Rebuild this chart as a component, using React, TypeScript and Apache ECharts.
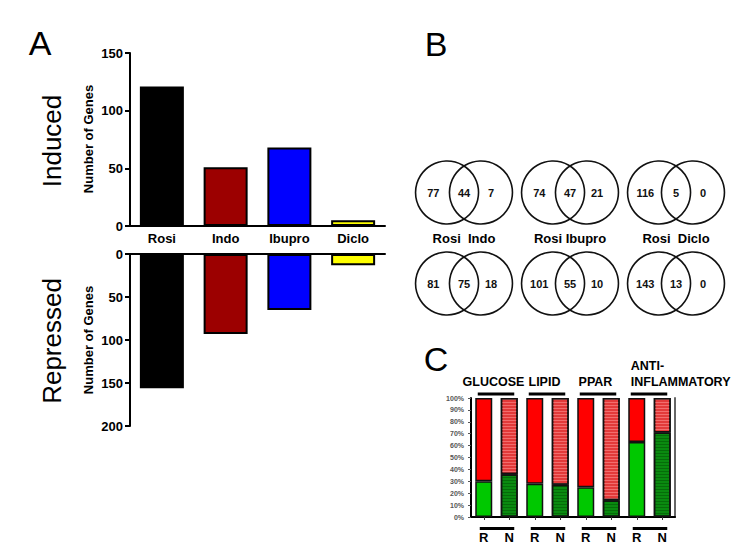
import React, { useEffect, useRef } from "react";
import * as echarts from "echarts";

// ---------- Data ----------
const drugCategories = ["Rosi", "Indo", "Ibupro", "Diclo"];
const drugColors = ["#000000", "#9c0000", "#0000ff", "#ffff00"];
const inducedGenes = [121, 51, 68, 5];
const repressedGenes = [156, 93, 65, 13];

const vennPairLabels = ["Rosi  Indo", "Rosi Ibupro", "Rosi  Diclo"];
const vennInducedRosiOnly = [77, 74, 116];
const vennInducedShared = [44, 47, 5];
const vennInducedDrugOnly = [7, 21, 0];
const vennRepressedRosiOnly = [81, 101, 143];
const vennRepressedShared = [75, 55, 13];
const vennRepressedDrugOnly = [18, 10, 0];

const pathwayBars = ["R", "N", "R", "N", "R", "N", "R", "N"];
const pathwayGroups = ["GLUCOSE", "LIPID", "PPAR", "ANTI-\nINFLAMMATORY"];
const greenPercent = [30, 36, 28, 27, 25, 14, 63, 71];
const redPercent = [70, 64, 72, 73, 75, 86, 37, 29];

const FONT = '"Liberation Sans", Arial, sans-serif';

function buildOption() {
  const circleData: any[] = [];
  const countData: any[] = [];
  const rows = [
    [vennInducedRosiOnly, vennInducedShared, vennInducedDrugOnly],
    [vennRepressedRosiOnly, vennRepressedShared, vennRepressedDrugOnly],
  ];
  rows.forEach((row, r) => {
    for (let i = 0; i < vennPairLabels.length; i++) {
      const cx = i + 0.5;
      const cy = r + 0.5;
      circleData.push([cx - 0.16, cy]);
      circleData.push([cx + 0.16, cy]);
      countData.push([cx - 0.29, cy, row[0][i]]);
      countData.push([cx, cy, row[1][i]]);
      countData.push([cx + 0.255, cy, row[2][i]]);
    }
  });
  const pairLabelData = vennPairLabels.map((l, i) => [i + 0.5, 1, l]);

  const groupData = pathwayGroups.map((g, i) => [i * 2, i * 2 + 1, g]);

  const stripeRed = {
    symbol: "rect",
    symbolSize: 1,
    dashArrayX: [1, 0],
    dashArrayY: [1, 2],
    color: "rgba(255,150,150,0.55)",
  };
  const stripeGreen = {
    symbol: "rect",
    symbolSize: 1,
    dashArrayX: [1, 0],
    dashArrayY: [1, 2],
    color: "rgba(0,70,0,0.45)",
  };

  const axisBlack = { show: true, lineStyle: { color: "#000", width: 2 } };

  return {
    animation: false,
    backgroundColor: "#ffffff",
    textStyle: { fontFamily: FONT },
    grid: [
      { left: 130, top: 53, width: 255, height: 173 },
      { left: 130, top: 254, width: 255, height: 172 },
      { left: 411, top: 147, width: 318, height: 182 },
      { left: 471, top: 398, width: 204, height: 119 },
    ],
    xAxis: [
      {
        gridIndex: 0,
        type: "category",
        data: drugCategories,
        axisLine: { ...axisBlack, onZero: false },
        axisTick: { show: false },
        axisLabel: { color: "#000", fontWeight: "bold", fontSize: 13, margin: 6, fontFamily: FONT },
      },
      {
        gridIndex: 1,
        type: "category",
        data: drugCategories,
        position: "top",
        axisLine: { ...axisBlack, onZero: false },
        axisTick: { show: false },
        axisLabel: { show: false },
      },
      {
        gridIndex: 2,
        type: "value",
        min: 0,
        max: 3,
        show: false,
      },
      {
        gridIndex: 3,
        type: "category",
        data: pathwayBars,
        axisLine: { ...axisBlack, onZero: false },
        axisTick: { show: true, alignWithLabel: true, length: 3, lineStyle: { color: "#333", width: 1 } },
        axisLabel: { color: "#000", fontWeight: "bold", fontSize: 13, margin: 14, fontFamily: FONT },
      },
    ],
    yAxis: [
      {
        gridIndex: 0,
        type: "value",
        min: 0,
        max: 150,
        interval: 50,
        splitLine: { show: false },
        axisLine: axisBlack,
        axisTick: { show: true, length: 5, lineStyle: { color: "#000", width: 2 } },
        axisLabel: { color: "#000", fontWeight: "bold", fontSize: 13, margin: 7, fontFamily: FONT },
      },
      {
        gridIndex: 1,
        type: "value",
        min: 0,
        max: 200,
        interval: 50,
        inverse: true,
        splitLine: { show: false },
        axisLine: axisBlack,
        axisTick: { show: true, length: 5, lineStyle: { color: "#000", width: 2 } },
        axisLabel: { color: "#000", fontWeight: "bold", fontSize: 13, margin: 7, fontFamily: FONT },
      },
      {
        gridIndex: 2,
        type: "value",
        min: 0,
        max: 2,
        inverse: true,
        show: false,
      },
      {
        gridIndex: 3,
        type: "value",
        min: 0,
        max: 100,
        interval: 10,
        splitLine: { show: false },
        axisLine: axisBlack,
        axisTick: { show: true, length: 3, lineStyle: { color: "#555", width: 1 } },
        axisLabel: {
          color: "#555",
          fontWeight: "bold",
          fontSize: 7,
          margin: 7,
          formatter: "{value}%",
          fontFamily: FONT,
        },
      },
      {
        gridIndex: 3,
        type: "value",
        min: 0,
        max: 100,
        position: "right",
        splitLine: { show: false },
        axisLine: { show: true, lineStyle: { color: "#666", width: 2 } },
        axisTick: { show: false },
        axisLabel: { show: false },
      },
    ],
    series: [
      {
        type: "bar",
        xAxisIndex: 0,
        yAxisIndex: 0,
        barWidth: 44,
        data: inducedGenes.map((v, i) => ({
          value: v,
          itemStyle: { color: drugColors[i], borderColor: "#000", borderWidth: 2 },
        })),
      },
      {
        type: "bar",
        xAxisIndex: 1,
        yAxisIndex: 1,
        barWidth: 44,
        data: repressedGenes.map((v, i) => ({
          value: v,
          itemStyle: { color: drugColors[i], borderColor: "#000", borderWidth: 2 },
        })),
      },
      {
        type: "scatter",
        xAxisIndex: 2,
        yAxisIndex: 2,
        symbol: "circle",
        symbolSize: 63,
        silent: true,
        itemStyle: { color: "rgba(0,0,0,0)", borderColor: "#111", borderWidth: 1.6, opacity: 1 },
        data: circleData,
      },
      {
        type: "scatter",
        xAxisIndex: 2,
        yAxisIndex: 2,
        symbolSize: 1,
        silent: true,
        itemStyle: { color: "rgba(0,0,0,0)", opacity: 1 },
        label: {
          show: true,
          position: "inside",
          formatter: (p: any) => String(p.value[2]),
          color: "#111",
          opacity: 1,
          fontWeight: "bold",
          fontSize: 11,
          fontFamily: FONT,
        },
        data: countData,
      },
      {
        type: "scatter",
        xAxisIndex: 2,
        yAxisIndex: 2,
        symbolSize: 1,
        silent: true,
        itemStyle: { color: "rgba(0,0,0,0)", opacity: 1 },
        label: {
          show: true,
          position: "inside",
          formatter: (p: any) => String(p.value[2]),
          color: "#000",
          opacity: 1,
          fontWeight: "bold",
          fontSize: 13,
          fontFamily: FONT,
        },
        data: pairLabelData,
      },
      {
        type: "bar",
        xAxisIndex: 3,
        yAxisIndex: 3,
        stack: "pct",
        barWidth: 17,
        data: greenPercent.map((v, i) => ({
          value: v,
          itemStyle: {
            color: pathwayBars[i] === "R" ? "#00c800" : "#0a8a10",
            borderColor: "#111",
            borderWidth: 1.5,
            decal: pathwayBars[i] === "R" ? undefined : stripeGreen,
          },
        })),
      },
      {
        type: "bar",
        xAxisIndex: 3,
        yAxisIndex: 3,
        stack: "pct",
        barWidth: 17,
        data: redPercent.map((v, i) => ({
          value: v,
          itemStyle: {
            color: pathwayBars[i] === "R" ? "#ff0000" : "#e23a3a",
            borderColor: "#111",
            borderWidth: 1.5,
            decal: pathwayBars[i] === "R" ? undefined : stripeRed,
          },
        })),
      },
      {
        type: "custom",
        xAxisIndex: 3,
        yAxisIndex: 3,
        silent: true,
        clip: false,
        data: groupData,
        renderItem: (params: any, api: any) => {
          const cs = params.coordSys;
          const x0 = api.coord([api.value(0), 0])[0];
          const x1 = api.coord([api.value(1), 0])[0];
          const label = pathwayGroups[params.dataIndex];
          const multi = label.indexOf("\n") >= 0;
          const top = cs.y;
          const bottom = cs.y + cs.height;
          return {
            type: "group",
            children: [
              {
                type: "rect",
                shape: { x: x0 - 6, y: top - 5.5, width: x1 - x0 + 11, height: 3 },
                style: { fill: "#000" },
              },
              {
                type: "rect",
                shape: { x: x0 - 4, y: bottom + 10, width: x1 - x0 + 9, height: 3 },
                style: { fill: "#000" },
              },
              {
                type: "text",
                style: {
                  text: label,
                  x: multi ? x0 - 6 : (x0 + x1) / 2 - 3,
                  y: top - 8.5,
                  textAlign: multi ? "left" : "center",
                  textVerticalAlign: "bottom",
                  align: multi ? "left" : "center",
                  verticalAlign: "bottom",
                  lineHeight: 16,
                  fill: "#000",
                  font: "bold 12.5px " + FONT,
                },
              },
            ],
          };
        },
      },
    ],
    graphic: [
      {
        type: "text",
        x: 40,
        y: 43,
        style: { text: "A", font: "34px " + FONT, fill: "#000", align: "center", verticalAlign: "middle" },
      },
      {
        type: "text",
        x: 436,
        y: 44,
        style: { text: "B", font: "34px " + FONT, fill: "#000", align: "center", verticalAlign: "middle" },
      },
      {
        type: "text",
        x: 436,
        y: 359,
        style: { text: "C", font: "34px " + FONT, fill: "#000", align: "center", verticalAlign: "middle" },
      },
      {
        type: "text",
        x: 52,
        y: 141,
        rotation: Math.PI / 2,
        style: { text: "Induced", font: "26px " + FONT, fill: "#000", align: "center", verticalAlign: "middle" },
      },
      {
        type: "text",
        x: 52,
        y: 341,
        rotation: Math.PI / 2,
        style: { text: "Repressed", font: "26px " + FONT, fill: "#000", align: "center", verticalAlign: "middle" },
      },
      {
        type: "text",
        x: 88,
        y: 139,
        rotation: Math.PI / 2,
        style: { text: "Number of Genes", font: "bold 13px " + FONT, fill: "#000", align: "center", verticalAlign: "middle" },
      },
      {
        type: "text",
        x: 88,
        y: 340,
        rotation: Math.PI / 2,
        style: { text: "Number of Genes", font: "bold 13px " + FONT, fill: "#000", align: "center", verticalAlign: "middle" },
      },
    ],
  };
}

export default function App() {
  const ref = useRef<HTMLDivElement>(null);
  useEffect(() => {
    if (!ref.current) return;
    const chart = echarts.init(ref.current, null, { renderer: "svg" });
    chart.setOption(buildOption() as any);
    return () => {
      chart.dispose();
    };
  }, []);
  return (
    <div
      ref={ref}
      style={{ position: "fixed", left: 0, top: 0, width: 744, height: 553, background: "#fff" }}
    />
  );
}
